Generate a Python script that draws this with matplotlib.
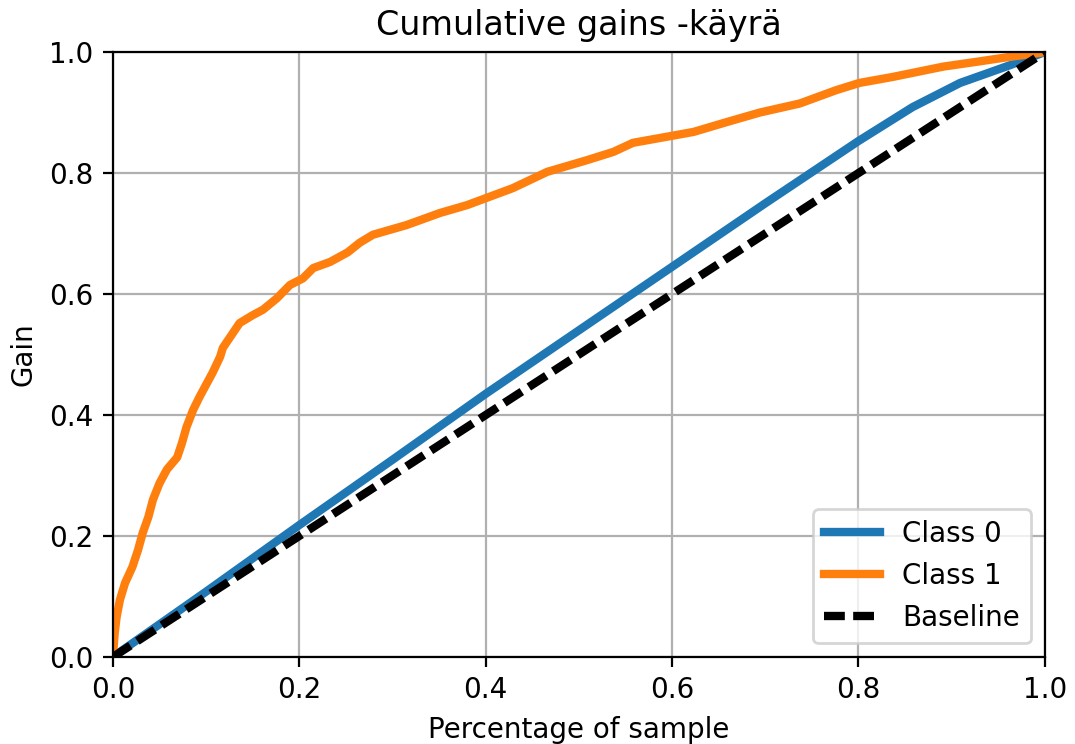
import numpy as np
import matplotlib
matplotlib.use("Agg")
import matplotlib.pyplot as plt

# data
class0_x = [0.0, 0.1, 0.2, 0.3, 0.4, 0.5, 0.6, 0.7, 0.8, 0.858, 0.909,
            0.962, 1.0]
class0_y = [0.0, 0.108, 0.218, 0.326, 0.435, 0.54, 0.645, 0.75, 0.853,
            0.909, 0.949, 0.978, 1.0]

class1_x = [0.0, 0.002, 0.004, 0.0075, 0.013, 0.021, 0.027, 0.032, 0.038,
            0.043, 0.05, 0.058, 0.069, 0.074, 0.079, 0.086, 0.093, 0.1,
            0.107, 0.115, 0.118, 0.136, 0.15, 0.161, 0.176, 0.19, 0.204,
            0.215, 0.233, 0.252, 0.265, 0.279, 0.315, 0.351, 0.38, 0.401,
            0.429, 0.466, 0.508, 0.537, 0.558, 0.587, 0.605, 0.623, 0.658,
            0.694, 0.737, 0.776, 0.801, 0.837, 0.891, 0.927, 0.962, 1.0]
class1_y = [0.0, 0.04, 0.066, 0.094, 0.122, 0.149, 0.177, 0.205, 0.231,
            0.26, 0.287, 0.31, 0.33, 0.353, 0.38, 0.408, 0.43, 0.45,
            0.47, 0.496, 0.511, 0.552, 0.565, 0.574, 0.593, 0.615, 0.626,
            0.643, 0.653, 0.669, 0.685, 0.698, 0.714, 0.734, 0.747, 0.759,
            0.775, 0.802, 0.821, 0.835, 0.85, 0.858, 0.863, 0.868, 0.884,
            0.9, 0.915, 0.937, 0.949, 0.959, 0.976, 0.984, 0.992, 1.0]

baseline = [0.0, 1.0]

fig = plt.figure(figsize=(5.375, 3.72), dpi=200)
ax = fig.add_axes([0.105, 0.117, 0.867, 0.813])

ax.plot(class0_x, class0_y, lw=3, label="Class 0")
ax.plot(class1_x, class1_y, lw=3, label="Class 1")
ax.plot(baseline, baseline, "k--", lw=3, dashes=(2.5, 1.0), label="Baseline")

ax.set_xlim(0.0, 1.0)
ax.set_ylim(0.0, 1.0)
ax.set_title("Cumulative gains -käyrä", fontsize="large")
ax.set_xlabel("Percentage of sample", fontsize="medium")
ax.set_ylabel("Gain", fontsize="medium")
ax.tick_params(labelsize="medium")
ax.grid(True)
ax.legend(loc="lower right", fontsize="medium")

fig.savefig("out.png", dpi=200)
